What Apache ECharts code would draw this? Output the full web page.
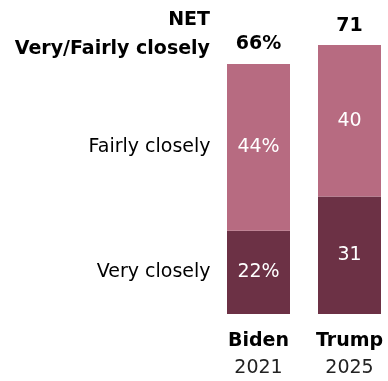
<!DOCTYPE html>
<html>
<head>
<meta charset="utf-8">
<script src="https://cdn.jsdelivr.net/npm/echarts@6/dist/echarts.min.js"></script>
<style>
  html, body { margin: 0; padding: 0; background: #fff; }
  #chart { width: 388px; height: 381px; }
</style>
</head>
<body>
<div id="chart"></div>
<script>
// Presidents and survey years shown along the bottom
const names = ['Biden', 'Trump'];
const years = ['2021', '2025'];
// Share following news about the administration
const veryClosely = [22, 31];
const fairlyClosely = [44, 40];
const netClosely = [66, 71];
const rowLabels = ['Very closely', 'Fairly closely'];

const FONT = '"DejaVu Sans", sans-serif';
const LIGHT = '#b76b81';
const DARK = '#6c3145';
const SIZE = 19;

// Only the first column carries a percent sign
const fmt = (v, i) => (i === 0 ? v + '%' : String(v));

const chart = echarts.init(document.getElementById('chart'));
chart.setOption({
  animation: false,
  textStyle: { fontFamily: FONT },
  // Category ticks sit on the grid edges; the bars overhang them
  grid: { left: 258.5, right: 38.5, top: 11, bottom: 67 },
  xAxis: {
    type: 'category',
    data: names,
    boundaryGap: false,
    axisLine: { show: false },
    axisTick: { show: false },
    splitLine: { show: false },
    axisLabel: {
      margin: 14,
      formatter: (v, i) => '{b|' + v + '}\n{n|' + years[i] + '}',
      rich: {
        b: { fontSize: SIZE, fontWeight: 'bold', color: '#000', lineHeight: 27, fontFamily: FONT },
        n: { fontSize: SIZE, color: '#222', lineHeight: 27, fontFamily: FONT }
      }
    }
  },
  yAxis: { type: 'value', min: 0, max: 80, show: false, splitLine: { show: false } },
  graphic: [{
    type: 'text',
    right: 178,
    top: 6,
    style: {
      text: 'NET\nVery/Fairly closely',
      textAlign: 'right',
      fontFamily: FONT,
      fontSize: SIZE,
      fontWeight: 'bold',
      lineHeight: 29,
      fill: '#000'
    }
  }],
  series: [
    {
      type: 'bar',
      stack: 'total',
      barWidth: 63,
      clip: false,
      data: veryClosely,
      itemStyle: { color: DARK },
      label: {
        show: true, position: 'inside', color: '#fff', fontSize: SIZE, fontFamily: FONT,
        formatter: p => fmt(p.value, p.dataIndex)
      }
    },
    {
      type: 'bar',
      stack: 'total',
      barWidth: 63,
      clip: false,
      data: fairlyClosely,
      itemStyle: { color: LIGHT },
      label: {
        show: true, position: 'inside', color: '#fff', fontSize: SIZE, fontFamily: FONT,
        formatter: p => fmt(p.value, p.dataIndex)
      }
    },
    {
      // NET totals above each bar
      type: 'scatter',
      symbolSize: 0,
      silent: true,
      clip: false,
      itemStyle: { opacity: 1 },
      data: netClosely.map((v, i) => [names[i], v]),
      label: {
        show: true, position: 'top', distance: 10, color: '#000', fontSize: SIZE, fontWeight: 'bold', fontFamily: FONT,
        formatter: p => fmt(p.value[1], p.dataIndex)
      }
    },
    {
      // Row labels beside the first column, centred on each segment
      type: 'scatter',
      symbolSize: 0,
      silent: true,
      clip: false,
      itemStyle: { opacity: 1 },
      data: [
        [names[0], veryClosely[0] / 2],
        [names[0], veryClosely[0] + fairlyClosely[0] / 2]
      ],
      label: {
        show: true, position: 'left', distance: 48, color: '#000', fontSize: SIZE, fontFamily: FONT,
        formatter: p => rowLabels[p.dataIndex]
      }
    }
  ]
});
</script>
</body>
</html>
